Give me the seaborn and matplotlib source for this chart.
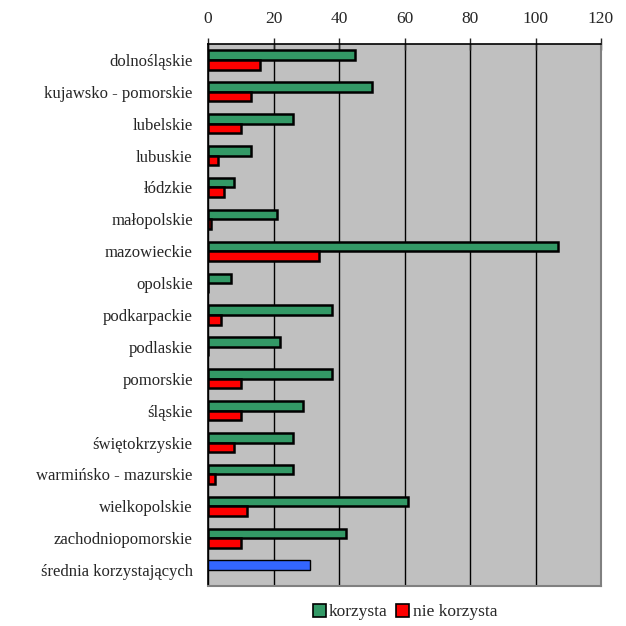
import matplotlib
matplotlib.use('Agg')
import matplotlib.pyplot as plt
import numpy as np
import pandas as pd
import seaborn as sns
from matplotlib.patches import Patch

REGIONS = ['dolnośląskie', 'kujawsko - pomorskie', 'lubelskie', 'lubuskie', 'łódzkie',
           'małopolskie', 'mazowieckie', 'opolskie', 'podkarpackie', 'podlaskie',
           'pomorskie', 'śląskie', 'świętokrzyskie', 'warmińsko - mazurskie',
           'wielkopolskie', 'zachodniopomorskie', 'średnia korzystających']
KORZYSTA = [45, 50, 26, 13, 8, 21, 107, 7, 38, 22, 38, 29, 26, 26, 61, 42, 31]
NIE_KORZYSTA = [16, 13, 10, 3, 5, 1, 34, 0, 4, 0, 10, 10, 8, 2, 12, 10, np.nan]
XTICKS = [0, 20, 40, 60, 80, 100, 120]

GREEN = '#339966'
RED = '#ff0000'
BLUE = '#3366ff'

sns.set_style('white')
plt.rcParams['font.family'] = ['Liberation Serif', 'DejaVu Serif']

df = pd.DataFrame({'region': REGIONS, 'korzysta': KORZYSTA, 'nie korzysta': NIE_KORZYSTA})
long = df.melt(id_vars='region', var_name='grupa', value_name='wartosc')

fig = plt.figure(figsize=(6.26, 6.26), dpi=100)
ax = fig.add_axes([208 / 626, 1 - 586 / 626, 393 / 626, 542 / 626])
ax.set_facecolor('#c0c0c0')

sns.barplot(data=long, y='region', x='wartosc', hue='grupa', order=REGIONS,
            palette={'korzysta': GREEN, 'nie korzysta': RED}, width=0.6, saturation=1,
            edgecolor='black', linewidth=1.8, orient='h', legend=False, ax=ax)

# the average bar is drawn in blue
avg_patch = ax.containers[0].patches[len(REGIONS) - 1]
avg_patch.set_facecolor(BLUE)
avg_patch.set_linewidth(1.0)

ax.set_xlim(0, 120)
ax.set_ylim(len(REGIONS) - 0.5, -0.5)
ax.set_xticks(XTICKS)
ax.xaxis.tick_top()
ax.tick_params(axis='x', direction='inout', length=9, width=1, labelsize=12.5, pad=8)
ax.grid(axis='x', color='black', linewidth=1)
ax.set_axisbelow(True)

ax.set_yticks(np.arange(len(REGIONS)))
ax.set_yticklabels(REGIONS)
ax.tick_params(axis='y', length=0, labelsize=12, pad=11)
ax.set_yticks(np.arange(len(REGIONS) + 1) - 0.5, minor=True)
ax.tick_params(axis='y', which='minor', direction='inout', length=8, width=1)

ax.set_xlabel('')
ax.set_ylabel('')
for side in ['top', 'left']:
    ax.spines[side].set_color('black')
    ax.spines[side].set_linewidth(1.2)
for side in ['right', 'bottom']:
    ax.spines[side].set_color('#808080')
    ax.spines[side].set_linewidth(1.5)

handles = [Patch(facecolor=GREEN, edgecolor='black', linewidth=1.2),
           Patch(facecolor=RED, edgecolor='black', linewidth=1.2)]
fig.legend(handles, ['korzysta', 'nie korzysta'], loc='center', bbox_to_anchor=(405 / 626, 1 - 612 / 626),
           ncol=2, frameon=False, fontsize=12.5, handlelength=0.75, handleheight=0.75,
           handletextpad=0.2, columnspacing=0.5)

fig.savefig('out.png', dpi=100)
